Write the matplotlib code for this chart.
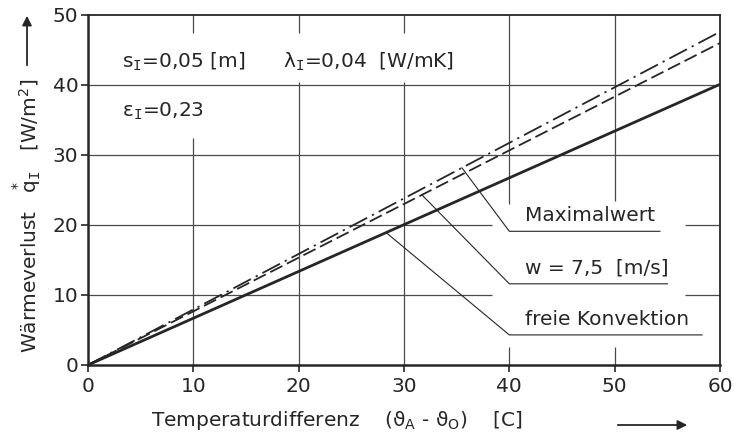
import numpy as np
import matplotlib
matplotlib.use("Agg")
import matplotlib.pyplot as plt

plt.rcParams["font.family"] = ["DejaVu Sans"]
plt.rcParams["mathtext.fontset"] = "dejavusans"
plt.rcParams["mathtext.default"] = "regular"

# data
temp_diff = [0, 60]
q_free = [0, 40.1]      # freie Konvektion
q_wind = [0, 46.0]      # w = 7,5 m/s
q_max = [0, 47.6]       # Maximalwert

x_ticks = [0, 10, 20, 30, 40, 50, 60]
y_ticks = [0, 10, 20, 30, 40, 50]

ann_labels = ["Maximalwert", "w = 7,5  [m/s]", "freie Konvektion"]
ann_curves = [q_max, q_wind, q_free]
ann_start_x = [35.5, 31.7, 28.3]
ann_kink_y = [19.1, 11.6, 4.3]
ann_end_x = [54.3, 55.0, 58.3]

ink = "#262626"
grid_c = "#4a4a4a"

fig = plt.figure(figsize=(7.34, 4.46), dpi=100)
ax = fig.add_axes([88 / 734, 81 / 446, 632 / 734, 350 / 446])
ax.set_xlim(0, 60)
ax.set_ylim(0, 50)

# grid, interrupted where the text sits
v_grid = {10: [(0, 32.4), (47.5, 50)], 20: [(0, 40.5), (47.5, 50)],
          30: [(0, 40.5), (47.5, 50)], 40: [(0, 2.6), (23, 50)],
          50: [(0, 2.6), (23.5, 50)]}
h_grid = {10: [(0, 38.4), (56.7, 60)], 20: [(0, 38.4), (56.7, 60)],
          30: [(0, 60)], 40: [(0, 60)]}
for x, segs in v_grid.items():
    for a, b in segs:
        ax.vlines(x, a, b, color=grid_c, lw=0.9, zorder=1)
for y, segs in h_grid.items():
    for a, b in segs:
        ax.hlines(y, a, b, color=grid_c, lw=0.9, zorder=1)

ax.plot(temp_diff, q_free, color=ink, lw=2.0, solid_capstyle="butt", zorder=3)
ax.plot(temp_diff, q_wind, color=ink, lw=1.3, dashes=(7.5, 2.8), zorder=3)
ax.plot(temp_diff, q_max, color=ink, lw=1.3, dashes=(11, 3, 1.2, 3), zorder=3)

# leader lines with underlined labels
for lab, curve, sx, ky, ex in zip(ann_labels, ann_curves, ann_start_x, ann_kink_y, ann_end_x):
    sy = np.interp(sx, temp_diff, curve)
    ax.plot([sx, 40, ex], [sy, ky, ky], color=ink, lw=0.8, zorder=2)
    ax.text(41.5, ky + 0.9, lab, fontsize=14.5, color=ink, ha="left", va="bottom")

# parameters
ax.text(3.2, 43.3, "s$_\\mathtt{I}$=0,05 [m]", fontsize=14.5, color=ink, va="center")
ax.text(18.5, 43.3, "λ$_\\mathtt{I}$=0,04  [W/mK]", fontsize=14.5, color=ink, va="center")
ax.text(3.2, 36.3, "ε$_\\mathtt{I}$=0,23", fontsize=14.5, color=ink, va="center")

ax.set_xticks(x_ticks)
ax.set_yticks(y_ticks)
ax.tick_params(direction="out", length=5, width=1.2, colors=ink, labelsize=14.5)
ax.tick_params(axis="x", pad=4)
ax.tick_params(axis="y", pad=2)
for side in ["left", "bottom"]:
    ax.spines[side].set_linewidth(1.8)
for side in ["top", "right"]:
    ax.spines[side].set_linewidth(1.3)
for s in ax.spines.values():
    s.set_color(ink)

# axis titles with arrows
fig.text(27 / 734, (446 - 353) / 446,
         "Wärmeverlust   $\\overset{*}{q}_\\mathtt{I}$   [W/m$^2$]",
         rotation=90, ha="center", va="bottom", fontsize=14.5, color=ink)
fig.text(151 / 734, (446 - 421) / 446,
         "Temperaturdifferenz    (ϑ$_A$ - ϑ$_O$)    [C]",
         ha="left", va="center", fontsize=14.5, color=ink)
ax.annotate("", xy=(27, 433), xytext=(27, 378), xycoords="figure pixels",
            textcoords="figure pixels", annotation_clip=False,
            arrowprops=dict(arrowstyle="-|>", color=ink, lw=1.3, mutation_scale=14))
ax.annotate("", xy=(690, 21), xytext=(615, 21), xycoords="figure pixels",
            textcoords="figure pixels", annotation_clip=False,
            arrowprops=dict(arrowstyle="-|>", color=ink, lw=1.3, mutation_scale=14))

fig.savefig("out.png", dpi=100)
